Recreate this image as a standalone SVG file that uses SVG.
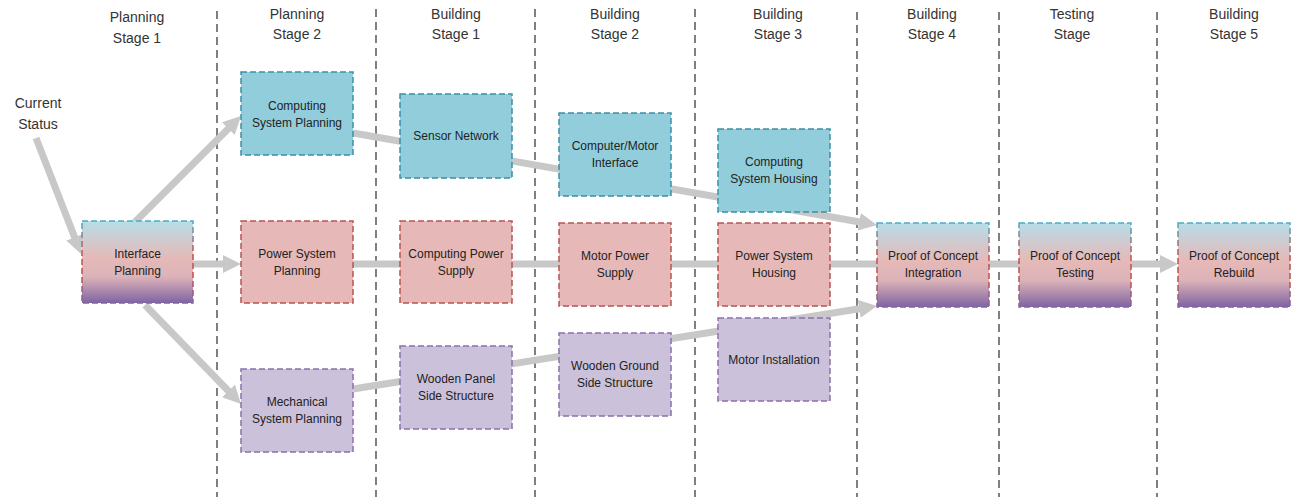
<svg xmlns="http://www.w3.org/2000/svg" width="1294" height="497" viewBox="0 0 1294 497">
<defs>
<style>
.hdr{font-family:"Liberation Sans",Arial,sans-serif;font-size:14px;fill:#333;text-anchor:middle}
.lbl{font-family:"Liberation Sans",Arial,sans-serif;font-size:12px;fill:#222;text-anchor:middle}
.sep{stroke:#4a4a4a;stroke-width:1.4;stroke-dasharray:8,5;fill:none}
.con{stroke:#c8c8c8;stroke-width:7;fill:none;marker-end:url(#ah)}
.conp{stroke:#c8c8c8;stroke-width:7;fill:none}
.box{stroke-width:1.5;stroke-dasharray:6,3}
.blue{fill:#92cddc;stroke:#3e8fa6}
.red{fill:#e6b9b8;stroke:#b85450}
.pur{fill:#ccc1da;stroke:#8a70aa}
.grad{fill:url(#gf);stroke:url(#gs)}
</style>
<linearGradient id="gf" x1="0" y1="0" x2="0" y2="1">
<stop offset="0" stop-color="#b7dde8"/>
<stop offset="0.45" stop-color="#e6b9b8"/>
<stop offset="0.68" stop-color="#dcb3b8"/>
<stop offset="1" stop-color="#8064a2"/>
</linearGradient>
<linearGradient id="gs" x1="0" y1="0" x2="0" y2="1">
<stop offset="0" stop-color="#4bacc6"/>
<stop offset="0.4" stop-color="#c0504d"/>
<stop offset="0.7" stop-color="#c0504d"/>
<stop offset="1" stop-color="#8064a2"/>
</linearGradient>
<marker id="ah" markerUnits="userSpaceOnUse" viewBox="0 -10 18 20" refX="2" refY="0" markerWidth="18" markerHeight="20" orient="auto">
<path d="M0,-9 L18,0 L0,9 z" fill="#c8c8c8"/>
</marker>
</defs>
<rect width="1294" height="497" fill="#ffffff"/>
<g id="separators">
<line class="sep" x1="217" y1="11" x2="217" y2="497"/>
<line class="sep" x1="376" y1="9" x2="376" y2="497"/>
<line class="sep" x1="535" y1="9" x2="535" y2="497"/>
<line class="sep" x1="695" y1="9" x2="695" y2="497"/>
<line class="sep" x1="857" y1="12" x2="857" y2="497"/>
<line class="sep" x1="999" y1="12" x2="999" y2="497"/>
<line class="sep" x1="1157" y1="12" x2="1157" y2="497"/>
</g>
<g id="headers">
<text class="hdr" x="137" y="22">Planning</text><text class="hdr" x="137" y="43">Stage 1</text>
<text class="hdr" x="297" y="19">Planning</text><text class="hdr" x="297" y="39">Stage 2</text>
<text class="hdr" x="456" y="19">Building</text><text class="hdr" x="456" y="39">Stage 1</text>
<text class="hdr" x="615" y="19">Building</text><text class="hdr" x="615" y="39">Stage 2</text>
<text class="hdr" x="778" y="19">Building</text><text class="hdr" x="778" y="39">Stage 3</text>
<text class="hdr" x="932" y="19">Building</text><text class="hdr" x="932" y="39">Stage 4</text>
<text class="hdr" x="1072" y="19">Testing</text><text class="hdr" x="1072" y="39">Stage</text>
<text class="hdr" x="1234" y="19">Building</text><text class="hdr" x="1234" y="39">Stage 5</text>
</g>
<g id="current-status">
<text class="hdr" x="38" y="108">Current</text><text class="hdr" x="38" y="129">Status</text>
</g>
<g id="connectors">
<line class="con" x1="36" y1="138" x2="75.3" y2="239.1"/>
<line class="con" x1="135" y1="222" x2="229.7" y2="127.3"/>
<line class="con" x1="193" y1="264" x2="225" y2="264"/>
<line class="con" x1="145" y1="305" x2="229.9" y2="392.5"/>
<line class="con" x1="353" y1="133" x2="861.2" y2="222.2"/>
<line class="con" x1="353" y1="264" x2="1162" y2="264"/>
<line class="con" x1="353" y1="389" x2="861.2" y2="308.5"/>
</g>
<g id="interface-planning"><rect class="box grad" x="82" y="221" width="111" height="82"/><text class="lbl" x="137.5" y="258">Interface</text><text class="lbl" x="137.5" y="275">Planning</text></g>
<g id="computing-system-planning"><rect class="box blue" x="241" y="72" width="112" height="83"/><text class="lbl" x="297" y="110">Computing</text><text class="lbl" x="297" y="127">System Planning</text></g>
<g id="power-system-planning"><rect class="box red" x="241" y="221" width="112" height="82"/><text class="lbl" x="297" y="258">Power System</text><text class="lbl" x="297" y="275">Planning</text></g>
<g id="mechanical-system-planning"><rect class="box pur" x="241" y="369" width="112" height="83"/><text class="lbl" x="297" y="406">Mechanical</text><text class="lbl" x="297" y="423">System Planning</text></g>
<g id="sensor-network"><rect class="box blue" x="400" y="94" width="112" height="84"/><text class="lbl" x="456" y="140">Sensor Network</text></g>
<g id="computing-power-supply"><rect class="box red" x="400" y="221" width="112" height="82"/><text class="lbl" x="456" y="258">Computing Power</text><text class="lbl" x="456" y="275">Supply</text></g>
<g id="wooden-panel"><rect class="box pur" x="400" y="346" width="112" height="83"/><text class="lbl" x="456" y="383">Wooden Panel</text><text class="lbl" x="456" y="400">Side Structure</text></g>
<g id="computer-motor-interface"><rect class="box blue" x="559" y="113" width="112" height="83"/><text class="lbl" x="615" y="150">Computer/Motor</text><text class="lbl" x="615" y="167">Interface</text></g>
<g id="motor-power-supply"><rect class="box red" x="559" y="223" width="112" height="83"/><text class="lbl" x="615" y="260">Motor Power</text><text class="lbl" x="615" y="277">Supply</text></g>
<g id="wooden-ground"><rect class="box pur" x="559" y="333" width="112" height="83"/><text class="lbl" x="615" y="370">Wooden Ground</text><text class="lbl" x="615" y="387">Side Structure</text></g>
<g id="computing-system-housing"><rect class="box blue" x="718" y="129" width="112" height="83"/><text class="lbl" x="774" y="166">Computing</text><text class="lbl" x="774" y="183">System Housing</text></g>
<g id="power-system-housing"><rect class="box red" x="718" y="223" width="112" height="83"/><text class="lbl" x="774" y="260">Power System</text><text class="lbl" x="774" y="277">Housing</text></g>
<g id="motor-installation"><rect class="box pur" x="718" y="318" width="112" height="83"/><text class="lbl" x="774" y="364">Motor Installation</text></g>
<g id="poc-integration"><rect class="box grad" x="877" y="223" width="112" height="84"/><text class="lbl" x="933" y="260">Proof of Concept</text><text class="lbl" x="933" y="277">Integration</text></g>
<g id="poc-testing"><rect class="box grad" x="1019" y="223" width="112" height="84"/><text class="lbl" x="1075" y="260">Proof of Concept</text><text class="lbl" x="1075" y="277">Testing</text></g>
<g id="poc-rebuild"><rect class="box grad" x="1178" y="223" width="112" height="84"/><text class="lbl" x="1234" y="260">Proof of Concept</text><text class="lbl" x="1234" y="277">Rebuild</text></g>
</svg>
